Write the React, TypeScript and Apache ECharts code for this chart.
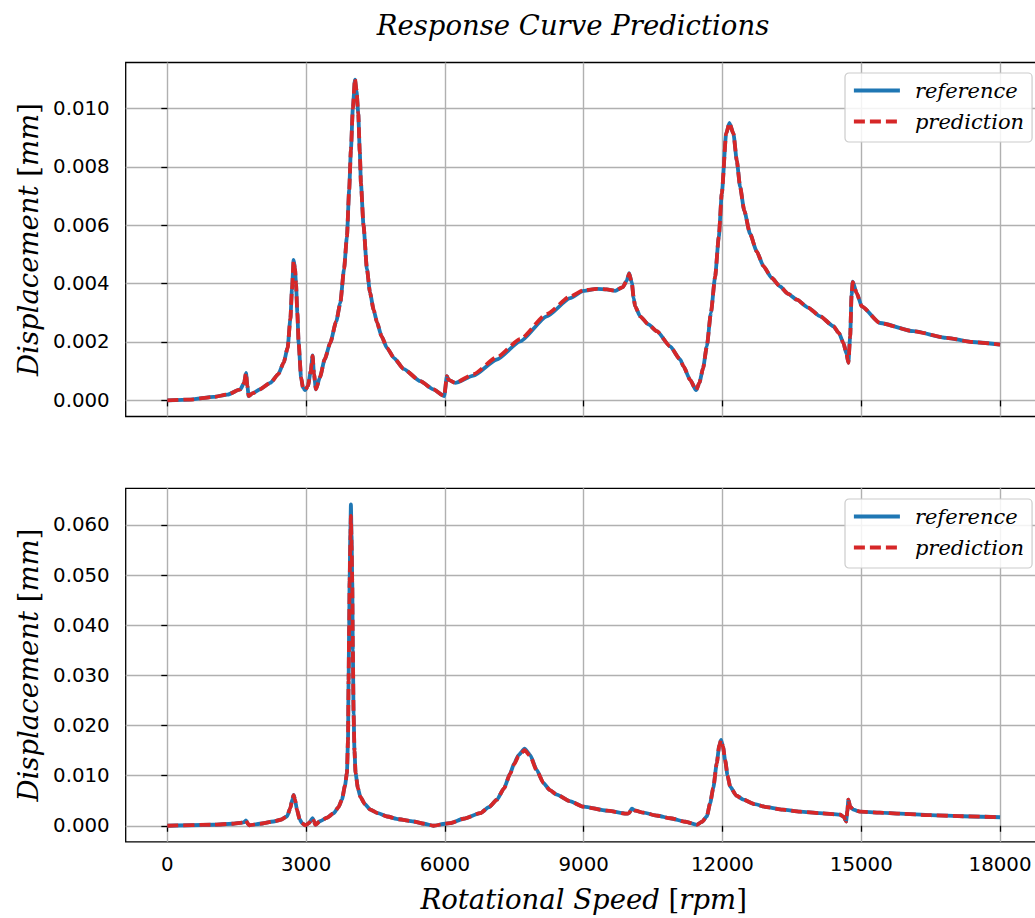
import React, { useEffect, useRef } from 'react';
import * as echarts from 'echarts';

// ---------- data ----------
const xTicks = [0, 3000, 6000, 9000, 12000, 15000, 18000];
const topYTicks = [0, 0.002, 0.004, 0.006, 0.008, 0.01];
const bottomYTicks = [0, 0.01, 0.02, 0.03, 0.04, 0.05, 0.06];

const topRpm = [
  0, 500, 1000, 1300, 1577, 1660, 1700, 1730, 1757, 1850,
  2000, 2226, 2400, 2514, 2600, 2660, 2694, 2730, 2760, 2781,
  2810, 2838, 2890, 2932, 2982, 3040, 3100, 3140, 3170, 3212,
  3300, 3400, 3522, 3650, 3738, 3820, 3882, 3930, 3968, 4010,
  4055, 4090, 4127, 4160, 4185, 4240, 4315, 4380, 4460, 4531,
  4630, 4747, 4900, 5106, 5467, 5750, 5985, 6043, 6080, 6223,
  6619, 7124, 7627, 8204, 8708, 8996, 9284, 9500, 9680, 9846,
  9930, 9983, 10041, 10080, 10112, 10220, 10400, 10581, 10868, 11085,
  11156, 11301, 11430, 11500, 11580, 11661, 11750, 11841, 11920, 11985,
  12079, 12150, 12237, 12310, 12381, 12470, 12597, 12740, 12885, 13060,
  13245, 13420, 13606, 13850, 14110, 14397, 14520, 14613, 14680, 14721,
  14760, 14790, 14816, 14902, 15010, 15406, 16126, 16847, 17400, 18000,
];
const topReference = [
  0, 0.00003, 0.00012, 0.0002, 0.00038, 0.0006, 0.00094, 0.0005, 0.00015, 0.00025,
  0.00038, 0.0006, 0.0009, 0.00129, 0.0018, 0.0028, 0.0038, 0.00481, 0.0045, 0.004,
  0.003, 0.00197, 0.0008, 0.00043, 0.00035, 0.0005, 0.001, 0.00154, 0.0009, 0.00038,
  0.0008, 0.0014, 0.00197, 0.0027, 0.00333, 0.0045, 0.00561, 0.0072, 0.00857, 0.01,
  0.01098, 0.0106, 0.00983, 0.0085, 0.00743, 0.006, 0.0045, 0.0037, 0.0031, 0.00268,
  0.0022, 0.0018, 0.00145, 0.00108, 0.00066, 0.00038, 0.00015, 0.00083, 0.0007, 0.0006,
  0.00085, 0.0014, 0.00202, 0.00288, 0.0035, 0.00375, 0.00382, 0.0038, 0.00375, 0.00388,
  0.0041, 0.00436, 0.00402, 0.0035, 0.00322, 0.00288, 0.0026, 0.00237, 0.00185, 0.0014,
  0.00117, 0.0007, 0.00035, 0.0006, 0.0011, 0.00185, 0.003, 0.00424, 0.0056, 0.00708,
  0.00913, 0.0095, 0.00913, 0.0082, 0.00731, 0.0065, 0.0057, 0.0051, 0.0046, 0.0042,
  0.0039, 0.00365, 0.00345, 0.00318, 0.00288, 0.00254, 0.0023, 0.00197, 0.0016, 0.00129,
  0.0022, 0.0036, 0.00407, 0.00367, 0.00322, 0.00265, 0.00237, 0.00214, 0.002, 0.00191,
];
const topPrediction = [
  0, 0.00003, 0.00012, 0.0002, 0.00038, 0.0006, 0.00094, 0.0005, 0.00015, 0.00025,
  0.00038, 0.0006, 0.0009, 0.00129, 0.0018, 0.0028, 0.0038, 0.00478, 0.0045, 0.004,
  0.003, 0.00197, 0.0008, 0.00043, 0.00035, 0.0005, 0.001, 0.00152, 0.0009, 0.00038,
  0.0008, 0.0014, 0.00197, 0.0027, 0.00333, 0.0045, 0.00561, 0.0072, 0.00857, 0.01,
  0.01102, 0.0106, 0.00983, 0.0085, 0.00743, 0.006, 0.0045, 0.0037, 0.0031, 0.00268,
  0.0022, 0.0018, 0.00145, 0.00108, 0.00066, 0.00038, 0.00015, 0.00083, 0.0007, 0.0006,
  0.0009, 0.00148, 0.0021, 0.00296, 0.00356, 0.00377, 0.00382, 0.0038, 0.00375, 0.00388,
  0.0041, 0.00434, 0.00402, 0.0035, 0.00322, 0.00288, 0.0026, 0.00237, 0.00185, 0.0014,
  0.00117, 0.0007, 0.00035, 0.0006, 0.0011, 0.00185, 0.003, 0.00424, 0.0056, 0.00708,
  0.00913, 0.0095, 0.00913, 0.0082, 0.00731, 0.0065, 0.0057, 0.0051, 0.0046, 0.0042,
  0.0039, 0.00365, 0.00345, 0.00318, 0.00288, 0.00254, 0.0023, 0.00197, 0.0016, 0.00129,
  0.0022, 0.0036, 0.00405, 0.00367, 0.00322, 0.00265, 0.00237, 0.00214, 0.002, 0.00191,
];

const bottomRpm = [
  0, 1000, 1400, 1649, 1700, 1740, 1772, 2000, 2297, 2450,
  2586, 2658, 2700, 2730, 2760, 2802, 2860, 2910, 2982, 3060,
  3140, 3170, 3198, 3300, 3450, 3594, 3700, 3774, 3840, 3882,
  3905, 3918, 3930, 3940, 3955, 3968, 3982, 3997, 4010, 4026,
  4045, 4069, 4120, 4170, 4270, 4386, 4550, 4747, 5000, 5322,
  5550, 5754, 6007, 6115, 6400, 6763, 6950, 7124, 7280, 7412,
  7500, 7592, 7722, 7844, 7980, 8132, 8270, 8420, 8700, 8996,
  9500, 9932, 9980, 10040, 10120, 10292, 10600, 10868, 11200, 11445,
  11560, 11661, 11733, 11800, 11877, 11930, 11970, 12010, 12057, 12110,
  12165, 12300, 12453, 12700, 12957, 13300, 13678, 14100, 14542, 14620,
  14672, 14700, 14721, 14760, 14830, 14974, 15400, 15838, 16500, 17200,
  18000,
];
const bottomReference = [
  0, 0.0002, 0.0004, 0.00066, 0.00105, 0.0004, 0.0001, 0.0004, 0.00085, 0.0012,
  0.00185, 0.0035, 0.0052, 0.00616, 0.0052, 0.0032, 0.0013, 0.00053, 0.0001, 0.0005,
  0.00153, 0.0009, 0.0002, 0.0009, 0.0016, 0.0025, 0.0037, 0.0052, 0.008, 0.0105,
  0.017, 0.029, 0.04, 0.0489, 0.058, 0.0641, 0.058, 0.0489, 0.035, 0.0224,
  0.015, 0.0105, 0.0075, 0.0058, 0.0043, 0.0032, 0.0025, 0.00185, 0.0013, 0.00085,
  0.0004, 0, 0.0004, 0.00053, 0.0014, 0.0025, 0.0037, 0.0052, 0.0075, 0.0105,
  0.0125, 0.0141, 0.0154, 0.0141, 0.0112, 0.0085, 0.0071, 0.0062, 0.0049, 0.0038,
  0.003, 0.0024, 0.0025, 0.0034, 0.003, 0.0026, 0.002, 0.0015, 0.0008, 0.0002,
  0.0008, 0.00185, 0.0045, 0.0075, 0.0125, 0.016, 0.0171, 0.0158, 0.0131, 0.01,
  0.0078, 0.006, 0.0052, 0.0043, 0.0037, 0.0032, 0.0028, 0.0025, 0.0022, 0.0018,
  0.00085, 0.003, 0.0052, 0.0038, 0.0032, 0.0028, 0.0026, 0.0024, 0.0021, 0.0019,
  0.0017,
];
const bottomPrediction = [
  0, 0.0002, 0.0004, 0.00066, 0.00105, 0.0004, 0.0001, 0.0004, 0.00085, 0.0012,
  0.00185, 0.0035, 0.0052, 0.0061, 0.0052, 0.0032, 0.0013, 0.00053, 0.0001, 0.0005,
  0.00153, 0.0009, 0.0002, 0.0009, 0.0016, 0.0025, 0.0037, 0.0052, 0.008, 0.0105,
  0.017, 0.029, 0.04, 0.0485, 0.056, 0.0618, 0.056, 0.0485, 0.035, 0.0224,
  0.015, 0.0105, 0.0075, 0.0058, 0.0043, 0.0032, 0.0025, 0.00185, 0.0013, 0.00085,
  0.0004, 0, 0.0004, 0.00053, 0.0014, 0.0025, 0.0037, 0.0052, 0.0075, 0.0104,
  0.0123, 0.0139, 0.0151, 0.0139, 0.0111, 0.0085, 0.0071, 0.0062, 0.0049, 0.0038,
  0.003, 0.0024, 0.0025, 0.0034, 0.003, 0.0026, 0.002, 0.0015, 0.0008, 0.0002,
  0.0008, 0.00185, 0.0045, 0.0075, 0.0125, 0.016, 0.0171, 0.0158, 0.0131, 0.01,
  0.0078, 0.006, 0.0052, 0.0043, 0.0037, 0.0032, 0.0028, 0.0025, 0.0022, 0.0018,
  0.00085, 0.003, 0.0052, 0.0038, 0.0032, 0.0028, 0.0026, 0.0024, 0.0021, 0.0019,
  0.0017,
];

const seriesNames = ['reference', 'prediction'];

// ---------- helpers ----------
const zip = (xs: number[], ys: number[]) => {
  const n = Math.min(xs.length, ys.length);
  const out: number[][] = [];
  for (let i = 0; i < n; i++) out.push([xs[i], ys[i]]);
  return out;
};

const BLUE = '#1f77b4';
const RED = '#d62728';
const SERIF = 'DejaVu Serif';
const SANS = 'DejaVu Sans';
const LABEL_SIZE = 27.5;
const TICK_SIZE = 19.8;
const LINE_W = 3.8;

const richLabel = {
  i: { fontFamily: SERIF, fontStyle: 'italic', fontSize: LABEL_SIZE, color: '#000' },
  r: { fontFamily: SERIF, fontStyle: 'normal', fontSize: LABEL_SIZE, color: '#000' },
};

function makeXAxis(gridIndex: number, showLabels: boolean, withName: boolean) {
  return {
    type: 'value',
    gridIndex,
    min: -900,
    max: 18900,
    axisLine: { show: false },
    axisTick: {
      show: true,
      inside: false,
      length: 6,
      lineStyle: { color: '#000', width: 1.3 },
      customValues: xTicks,
    },
    axisLabel: {
      show: showLabels,
      customValues: xTicks,
      margin: 13,
      fontFamily: SANS,
      fontSize: TICK_SIZE,
      color: '#000',
      formatter: (v: number) => String(Math.round(v)),
    },
    splitLine: { show: true, lineStyle: { color: '#b0b0b0', width: 1.4 } },
    name: withName ? '{i|Rotational} {i|Speed} {r|[}{i|rpm}{r|]}' : '',
    nameLocation: 'middle',
    nameGap: 43,
    nameTextStyle: {
      fontFamily: SERIF,
      fontSize: LABEL_SIZE,
      color: '#000',
      rich: richLabel,
    },
  };
}

function makeYAxis(gridIndex: number, min: number, max: number, ticks: number[]) {
  return {
    type: 'value',
    gridIndex,
    min,
    max,
    axisLine: { show: false },
    axisTick: {
      show: true,
      inside: false,
      length: 6,
      lineStyle: { color: '#000', width: 1.3 },
      customValues: ticks,
    },
    axisLabel: {
      show: true,
      customValues: ticks,
      margin: 16,
      fontFamily: SANS,
      fontSize: TICK_SIZE,
      color: '#000',
      formatter: (v: number) => v.toFixed(3),
    },
    splitLine: { show: true, lineStyle: { color: '#b0b0b0', width: 1.4 } },
    name: '{i|Displacement} {r|[}{i|mm}{r|]}',
    nameLocation: 'middle',
    nameGap: 83,
    nameRotate: 90,
    nameTextStyle: {
      fontFamily: SERIF,
      fontSize: LABEL_SIZE,
      color: '#000',
      rich: richLabel,
    },
  };
}

function makeSeries(name: string, idx: number, xs: number[], ys: number[], color: string, dashed: boolean) {
  return {
    name,
    type: 'line',
    xAxisIndex: idx,
    yAxisIndex: idx,
    data: zip(xs, ys),
    showSymbol: false,
    symbol: 'none',
    smooth: 0.2,
    smoothMonotone: 'x',
    clip: true,
    itemStyle: { color },
    lineStyle: dashed
      ? { color, width: LINE_W, type: [11, 5], cap: 'butt' }
      : { color, width: LINE_W },
    emphasis: { disabled: true },
    z: dashed ? 3 : 2,
  };
}

function makeLegend(top: number) {
  return {
    data: seriesNames,
    orient: 'vertical',
    left: 845,
    top,
    padding: [7, 8, 10, 7],
    itemWidth: 46,
    itemHeight: 20,
    itemGap: 10,
    selectedMode: false,
    backgroundColor: 'rgba(255,255,255,0.85)',
    borderColor: '#cccccc',
    borderWidth: 1.2,
    borderRadius: 4,
    itemStyle: { opacity: 0, borderWidth: 0 },
    lineStyle: { width: LINE_W },
    textStyle: {
      fontFamily: SERIF,
      fontStyle: 'italic',
      fontSize: 21,
      color: '#000',
      lineHeight: 20,
      padding: [0, 0, 0, 10],
    },
  };
}

export default function App() {
  const ref = useRef<HTMLDivElement>(null);
  useEffect(() => {
    document.body.style.margin = '0';
    document.body.style.overflow = 'hidden';
    document.documentElement.style.overflow = 'hidden';
    if (!ref.current) return;
    const chart = echarts.init(ref.current, null, { renderer: 'svg' });
    const option: any = {
      animation: false,
      backgroundColor: '#ffffff',
      title: {
        text: 'Response Curve Predictions',
        left: 568,
        textAlign: 'center',
        top: 6,
        textStyle: {
          fontFamily: SERIF,
          fontStyle: 'italic',
          fontWeight: 'normal',
          fontSize: LABEL_SIZE,
          color: '#000',
        },
      },
      legend: [makeLegend(73), makeLegend(499)],
      grid: [
        { left: 125.7, width: 916, top: 62.5, height: 354, show: true, borderColor: '#000', borderWidth: 1.3, backgroundColor: 'transparent' },
        { left: 125.7, width: 916, top: 488.3, height: 353.5, show: true, borderColor: '#000', borderWidth: 1.3, backgroundColor: 'transparent' },
      ],
      xAxis: [makeXAxis(0, false, false), makeXAxis(1, true, true)],
      yAxis: [
        makeYAxis(0, -0.000551, 0.01157, topYTicks),
        makeYAxis(1, -0.0032, 0.0673, bottomYTicks),
      ],
      series: [
        makeSeries('reference', 0, topRpm, topReference, BLUE, false),
        makeSeries('prediction', 0, topRpm, topPrediction, RED, true),
        makeSeries('reference', 1, bottomRpm, bottomReference, BLUE, false),
        makeSeries('prediction', 1, bottomRpm, bottomPrediction, RED, true),
      ],
    };
    chart.setOption(option);
    return () => chart.dispose();
  }, []);
  return <div ref={ref} style={{ width: 1050, height: 918 }} />;
}
